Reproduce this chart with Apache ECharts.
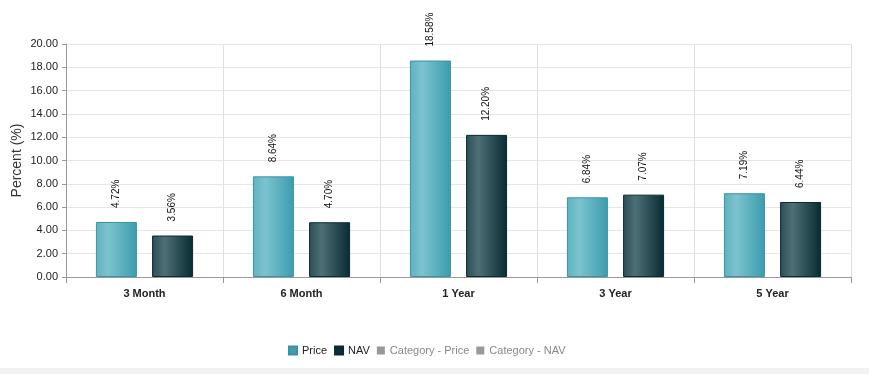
<!DOCTYPE html>
<html><head><meta charset="utf-8">
<script src="https://cdn.jsdelivr.net/npm/echarts@6/dist/echarts.min.js"></script>
<style>html,body{margin:0;padding:0;background:#fff}#c{width:869px;height:374px}</style>
</head><body><div id="c"></div>
<script>
const categories = ['3 Month', '6 Month', '1 Year', '3 Year', '5 Year'];
const priceValues = [4.72, 8.64, 18.58, 6.84, 7.19];
const navValues = [3.56, 4.70, 12.20, 7.07, 6.44];
const legendNames = ['Price', 'NAV', 'Category - Price', 'Category - NAV'];

function grad(c0, c1, c2) {
  return new echarts.graphic.LinearGradient(0, 0, 1, 0, [
    {offset: 0, color: c0}, {offset: 0.3, color: c1}, {offset: 1, color: c2}
  ]);
}
const chart = echarts.init(document.getElementById('c'));
const lbl = {
  show: true, position: 'top', rotate: 90, align: 'left', verticalAlign: 'middle',
  distance: 14, fontSize: 10, color: '#111', fontFamily: 'Arial, Liberation Sans',
  formatter: p => p.value.toFixed(2) + '%'
};
chart.setOption({
  animation: false,
  textStyle: {fontFamily: 'Arial, Liberation Sans, sans-serif'},
  grid: {left: 66, right: 18, top: 44, bottom: 97, containLabel: false, outerBoundsMode: 'none'},
  legend: {
    bottom: 13, left: 283, itemWidth: 8, itemHeight: 8, itemGap: 7,
    icon: 'rect', textStyle: {fontSize: 11, color: '#222'},
    data: [
      {name: 'Price', itemStyle: {color: '#3d9fb0'}},
      {name: 'NAV', itemStyle: {color: '#0d2e36'}},
      {name: 'Category - Price', itemStyle: {color: '#999'}, textStyle: {color: '#888'}},
      {name: 'Category - NAV', itemStyle: {color: '#999'}, textStyle: {color: '#888'}}
    ]
  },
  graphic: [{type: 'rect', left: 0, bottom: 0, shape: {width: 869, height: 6}, style: {fill: '#f2f2f2'}, silent: true}],
  xAxis: {
    type: 'category', data: categories,
    axisLine: {lineStyle: {color: '#999'}},
    axisTick: {show: true, length: 6, lineStyle: {color: '#999'}},
    axisLabel: {fontSize: 11, fontWeight: 'bold', color: '#222', margin: 11},
    splitLine: {show: true, lineStyle: {color: '#e0e0e0'}}
  },
  yAxis: {
    type: 'value', min: 0, max: 20, interval: 2,
    name: 'Percent (%)', nameLocation: 'middle', nameGap: 42, nameMoveOverlap: false,
    nameTextStyle: {fontSize: 14, color: '#333'},
    axisLine: {show: true, lineStyle: {color: '#999'}},
    axisTick: {show: true, length: 4, lineStyle: {color: '#999'}},
    axisLabel: {fontSize: 11, color: '#222', margin: 8, formatter: v => v.toFixed(2)},
    splitLine: {lineStyle: {color: '#e6e6e6'}}
  },
  series: [
    {name: legendNames[0], type: 'bar', data: priceValues, barWidth: 41, barGap: '37%',
     itemStyle: {color: grad('#5db3c1', '#7cc3ce', '#3b9cad'), borderColor: '#3a94a3', borderWidth: 1},
     label: lbl},
    {name: legendNames[1], type: 'bar', data: navValues, barWidth: 41,
     itemStyle: {color: grad('#2b4e56', '#4e6f75', '#082a32'), borderColor: '#0a2a30', borderWidth: 1},
     label: lbl},
    {name: legendNames[2], type: 'line', data: []},
    {name: legendNames[3], type: 'line', data: []}
  ]
});
</script></body></html>
